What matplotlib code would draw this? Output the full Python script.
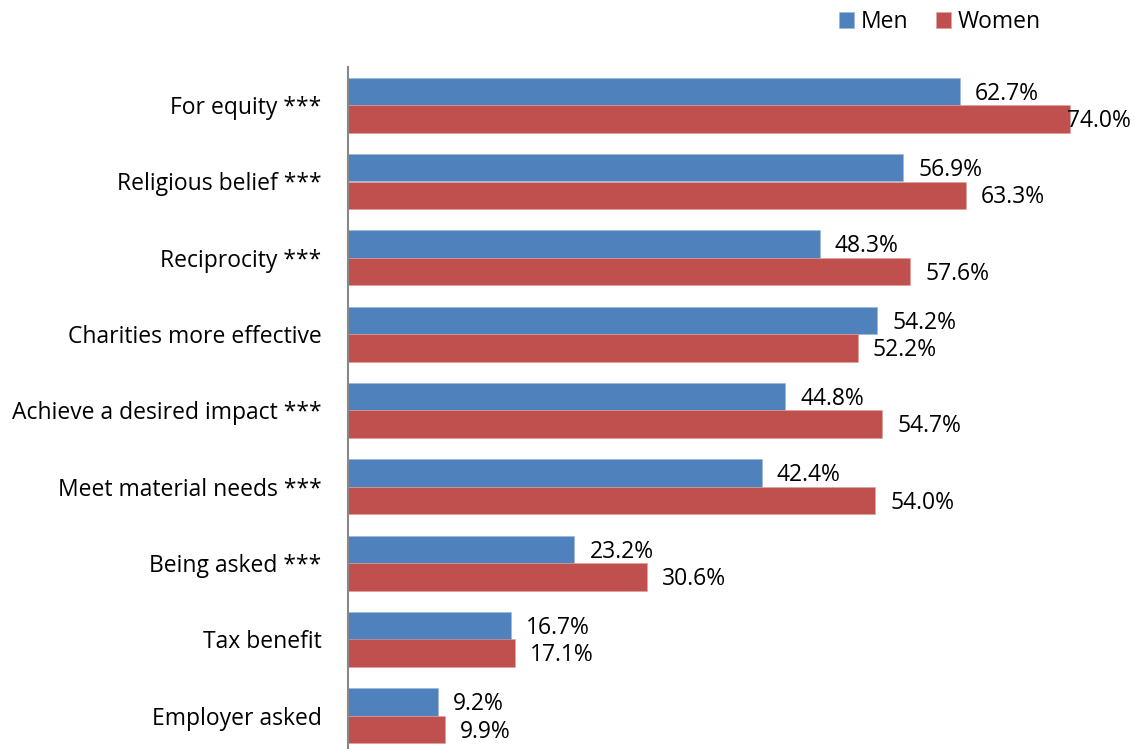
import matplotlib.pyplot as plt
import numpy as np

categories = ['For equity ***', 'Religious belief ***', 'Reciprocity ***',
              'Charities more effective', 'Achieve a desired impact ***',
              'Meet material needs ***', 'Being asked ***', 'Tax benefit',
              'Employer asked']
men = [62.7, 56.9, 48.3, 54.2, 44.8, 42.4, 23.2, 16.7, 9.2]
women = [74.0, 63.3, 57.6, 52.2, 54.7, 54.0, 30.6, 17.1, 9.9]

plt.rcParams['font.family'] = ['Open Sans', 'DejaVu Sans']

fig = plt.figure(figsize=(11.34, 7.49), dpi=100)
ax = fig.add_axes([348 / 1134, -5 / 749, (1129 - 348) / 1134, 687 / 749])

y = np.arange(len(categories))
h = 0.36
ax.barh(y - h / 2, men, height=h, color='#4F81BD', edgecolor='#9DB7D9', linewidth=0.4, label='Men')
ax.barh(y + h / 2, women, height=h, color='#C0504D', edgecolor='#DDA09E', linewidth=0.4, label='Women')

for i in range(len(categories)):
    for v, yy in ((men[i], y[i] - h / 2), (women[i], y[i] + h / 2)):
        off = -3 if v > 70 else 15
        ax.annotate(f'{v:.1f}%', (v, yy), xytext=(off * 0.72, -1.5), textcoords='offset points',
                    ha='left', va='center', fontsize=16.5, color='black')

ax.set_xlim(0, 80)
ax.set_ylim(len(categories) - 0.5, -0.5)
ax.set_yticks(y)
ax.set_yticklabels(categories, fontsize=16.5, color='black')
ax.tick_params(axis='y', length=0, pad=19)
ax.set_xticks([])
for s in ['top', 'right', 'bottom']:
    ax.spines[s].set_visible(False)
ax.spines['left'].set_color('#888888')
ax.spines['left'].set_linewidth(1.5)

fig.legend(loc='center', bbox_to_anchor=(940 / 1134, 1 - 22 / 749), ncol=2, frameon=False,
           fontsize=16.5, handlelength=0.65, handleheight=0.65, handletextpad=0.3, columnspacing=1.2)

fig.savefig('out.png', dpi=100)
